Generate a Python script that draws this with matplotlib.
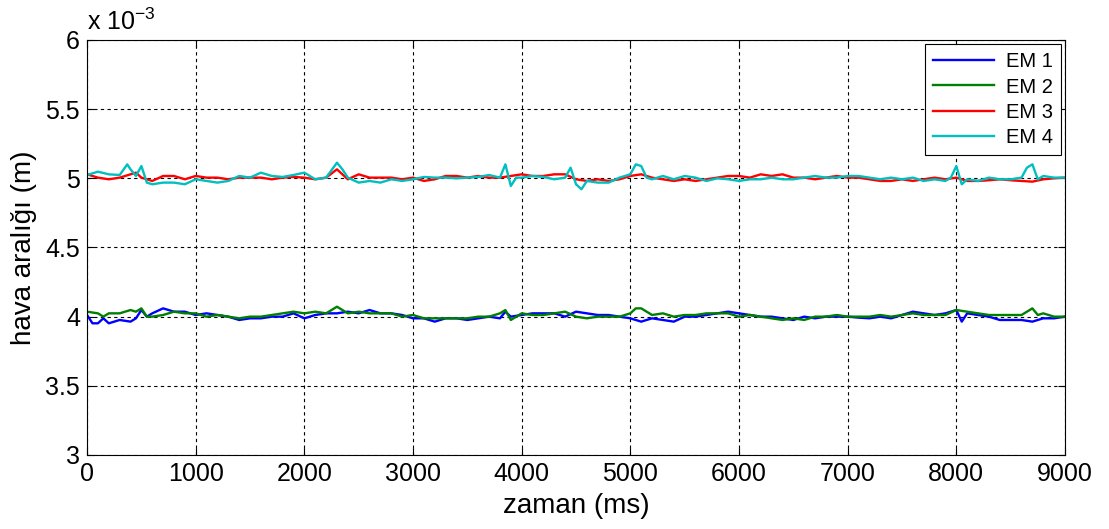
import numpy as np
import matplotlib
matplotlib.use("Agg")
import matplotlib.pyplot as plt
from matplotlib.ticker import FuncFormatter, MultipleLocator

plt.rcParams['font.family'] = ['Liberation Sans', 'DejaVu Sans']

# values in units of 1e-3 m
t_em1 = [0, 50, 100, 150, 200, 300, 400, 450, 500, 550, 600, 700, 800, 900, 1000, 1100, 1200, 1300, 1400,
         1500, 1600, 1700, 1800, 1900, 2000, 2100, 2200, 2300, 2400, 2500, 2600, 2700, 2800, 2900, 3000,
         3100, 3200, 3300, 3400, 3500, 3600, 3700, 3800, 3850, 3900, 4000, 4100, 4200, 4300, 4400, 4500,
         4600, 4700, 4800, 4900, 5000, 5100, 5200, 5300, 5400, 5500, 5600, 5700, 5800, 5900, 6000, 6100,
         6200, 6300, 6400, 6500, 6600, 6700, 6800, 6900, 7000, 7100, 7200, 7300, 7400, 7500, 7600, 7700,
         7800, 7900, 8000, 8050, 8100, 8200, 8300, 8400, 8500, 8600, 8700, 8800, 8900, 9000]
em1 = [4.012, 3.952, 3.952, 3.988, 3.952, 3.976, 3.964, 3.988, 4.048, 4.000, 4.024, 4.060, 4.036, 4.036,
       4.012, 4.024, 4.012, 4.000, 3.976, 3.988, 3.988, 4.000, 4.000, 4.024, 3.988, 4.012, 4.024, 4.024,
       4.036, 4.024, 4.048, 4.024, 4.024, 4.012, 3.988, 3.988, 3.964, 3.988, 3.988, 3.976, 3.988, 4.000,
       3.988, 4.036, 4.000, 4.012, 4.024, 4.024, 4.024, 4.000, 4.036, 4.024, 4.012, 4.012, 4.000, 3.988,
       3.964, 3.988, 3.976, 3.964, 4.000, 4.000, 4.012, 4.024, 4.036, 4.024, 4.012, 4.000, 4.000, 3.988,
       3.976, 4.000, 3.988, 4.000, 4.000, 4.000, 3.993, 3.988, 4.000, 3.988, 4.012, 4.036, 4.024, 4.012,
       4.024, 4.048, 3.964, 4.024, 4.012, 4.000, 3.976, 3.976, 3.976, 3.964, 3.988, 3.988, 4.000]

t_em2 = [0, 100, 150, 200, 300, 400, 450, 500, 550, 600, 700, 800, 900, 1000, 1100, 1200, 1300, 1400, 1500,
         1600, 1700, 1800, 1900, 2000, 2100, 2200, 2300, 2400, 2500, 2600, 2700, 2800, 2900, 3000, 3100,
         3200, 3300, 3400, 3500, 3600, 3700, 3800, 3850, 3900, 4000, 4100, 4200, 4300, 4400, 4500, 4600,
         4700, 4800, 4900, 5000, 5050, 5100, 5200, 5300, 5400, 5500, 5600, 5700, 5800, 5900, 6000, 6100,
         6200, 6300, 6400, 6500, 6600, 6700, 6800, 6900, 7000, 7100, 7200, 7300, 7400, 7500, 7600, 7700,
         7800, 7900, 8000, 8100, 8200, 8300, 8400, 8500, 8600, 8700, 8750, 8800, 8900, 9000]
em2 = [4.036, 4.024, 4.000, 4.024, 4.024, 4.048, 4.036, 4.060, 4.000, 4.000, 4.012, 4.036, 4.024, 4.024,
       4.000, 4.012, 4.000, 3.988, 4.000, 4.000, 4.012, 4.024, 4.036, 4.024, 4.036, 4.024, 4.072, 4.024,
       4.036, 4.024, 4.024, 4.024, 4.000, 4.012, 3.988, 3.988, 3.988, 3.988, 3.988, 4.000, 4.000, 4.024,
       4.048, 3.976, 4.024, 4.012, 4.012, 4.024, 4.036, 4.000, 3.988, 4.000, 4.000, 4.000, 4.024, 4.060,
       4.060, 4.012, 4.024, 4.000, 4.012, 4.012, 4.024, 4.024, 4.024, 4.000, 4.012, 4.000, 3.988, 3.976,
       3.988, 3.976, 4.000, 4.000, 4.012, 4.000, 4.000, 4.000, 4.012, 4.000, 4.012, 4.024, 4.012, 4.012,
       4.012, 4.048, 4.036, 4.024, 4.012, 4.012, 4.012, 4.012, 4.060, 4.012, 4.024, 4.000, 4.000]

t_em3 = [0, 100, 200, 300, 400, 450, 500, 600, 700, 800, 900, 1000, 1100, 1200, 1300, 1400, 1500, 1600,
         1700, 1800, 1900, 2000, 2100, 2200, 2300, 2400, 2500, 2600, 2700, 2800, 2900, 3000, 3100, 3200,
         3300, 3400, 3500, 3600, 3700, 3800, 3900, 4000, 4100, 4200, 4300, 4400, 4500, 4600, 4700, 4800,
         4900, 5000, 5100, 5200, 5300, 5400, 5500, 5600, 5700, 5800, 5900, 6000, 6100, 6200, 6300, 6400,
         6500, 6600, 6700, 6800, 6900, 7000, 7100, 7200, 7300, 7400, 7500, 7600, 7700, 7800, 7900, 8000,
         8100, 8200, 8300, 8400, 8500, 8600, 8700, 8800, 8900, 9000]
em3 = [5.029, 5.005, 4.993, 5.005, 5.029, 5.041, 5.005, 4.981, 5.017, 5.017, 4.993, 5.017, 5.005, 5.005,
       4.993, 5.005, 5.005, 5.005, 4.993, 5.005, 5.010, 5.005, 4.993, 5.005, 5.065, 4.993, 5.029, 5.005,
       5.005, 5.005, 4.993, 5.005, 4.981, 4.993, 5.017, 5.017, 5.005, 5.017, 5.005, 5.005, 5.017, 5.029,
       5.017, 5.017, 5.029, 5.029, 4.993, 4.981, 4.993, 4.981, 4.993, 5.017, 5.029, 5.005, 4.993, 4.981,
       4.993, 4.981, 4.993, 5.005, 5.017, 5.017, 5.005, 5.029, 5.017, 5.029, 5.005, 5.005, 4.993, 5.005,
       5.017, 5.005, 5.005, 4.993, 4.981, 4.981, 4.993, 4.981, 4.993, 5.005, 4.993, 5.005, 4.981, 4.981,
       4.986, 4.993, 4.986, 4.981, 4.976, 4.993, 5.000, 5.005]

t_em4 = [0, 100, 200, 300, 370, 400, 450, 500, 550, 600, 700, 800, 900, 1000, 1100, 1200, 1300, 1400, 1500,
         1600, 1700, 1800, 1900, 2000, 2100, 2200, 2300, 2350, 2400, 2500, 2600, 2700, 2800, 2900, 3000,
         3100, 3200, 3300, 3400, 3500, 3600, 3700, 3800, 3850, 3900, 3950, 4000, 4100, 4200, 4300, 4400,
         4450, 4500, 4550, 4600, 4700, 4800, 4900, 5000, 5050, 5100, 5150, 5200, 5300, 5400, 5500, 5600,
         5700, 5800, 5900, 6000, 6100, 6200, 6300, 6400, 6500, 6600, 6700, 6800, 6900, 7000, 7100, 7200,
         7300, 7400, 7500, 7600, 7700, 7800, 7900, 7950, 8000, 8050, 8100, 8200, 8300, 8400, 8500, 8600,
         8650, 8700, 8750, 8800, 8900, 9000]
em4 = [5.024, 5.048, 5.029, 5.024, 5.101, 5.065, 5.017, 5.089, 4.969, 4.957, 4.969, 4.969, 4.957, 4.993,
       4.981, 4.969, 4.981, 5.017, 5.005, 5.041, 5.017, 5.010, 5.024, 5.041, 4.993, 5.005, 5.113, 5.065,
       5.005, 4.969, 4.981, 4.969, 4.993, 4.981, 4.993, 5.010, 5.005, 5.005, 5.000, 5.005, 5.010, 5.024,
       5.005, 5.101, 4.945, 5.005, 5.005, 5.017, 5.010, 4.993, 5.005, 5.077, 4.957, 4.921, 4.981, 4.969,
       4.969, 5.005, 5.029, 5.101, 5.089, 5.005, 4.993, 5.017, 4.993, 5.017, 5.005, 4.981, 5.000, 4.993,
       4.981, 4.993, 4.993, 5.005, 4.993, 4.993, 5.005, 5.017, 5.005, 5.005, 5.017, 5.017, 5.005, 4.993,
       5.005, 4.993, 5.005, 4.981, 4.993, 4.981, 5.005, 5.089, 4.957, 4.993, 4.981, 5.005, 4.993, 4.993,
       5.005, 5.077, 5.101, 4.993, 5.017, 5.005, 5.005]

labels = ['EM 1', 'EM 2', 'EM 3', 'EM 4']
colors = ['#0000ff', '#008000', '#ff0000', '#00bfbf']

fig = plt.figure(figsize=(11.09, 5.29), dpi=100)
ax = fig.add_axes([0.0785, 0.1399, 0.9603 - 0.0785, 0.9244 - 0.1399])

for t, v, lab, c in zip([t_em1, t_em2, t_em3, t_em4], [em1, em2, em3, em4], labels, colors):
    ax.plot(t, v, color=c, lw=1.7, label=lab)

ax.set_xlim(0, 9000)
ax.set_ylim(3, 6)
ax.xaxis.set_major_locator(MultipleLocator(1000))
ax.yaxis.set_major_locator(MultipleLocator(0.5))
ax.yaxis.set_major_formatter(FuncFormatter(lambda v, p: f'{v:g}'))
ax.grid(True, color='black', linestyle=(0, (3, 3)), linewidth=0.8)
ax.tick_params(direction='in', top=True, right=True, labelsize=18, length=5, width=0.8, pad=5)
for s in ax.spines.values():
    s.set_linewidth(0.8)

ax.set_xlabel('zaman (ms)', fontsize=20, labelpad=5)
ax.set_ylabel('hava aralığı (m)', fontsize=20, labelpad=6)
ax.text(0.0, 1.012, r'x 10$^{\mathregular{-3}}$', transform=ax.transAxes, fontsize=18,
        ha='left', va='bottom')

leg = ax.legend(loc='upper right', fontsize=14.5, frameon=True, fancybox=False, edgecolor='black',
                framealpha=1, handlelength=3.0, borderaxespad=0.2, labelspacing=0.32,
                borderpad=0.4, handletextpad=0.6)
leg.get_frame().set_linewidth(0.8)

fig.savefig('out.png', dpi=100)
